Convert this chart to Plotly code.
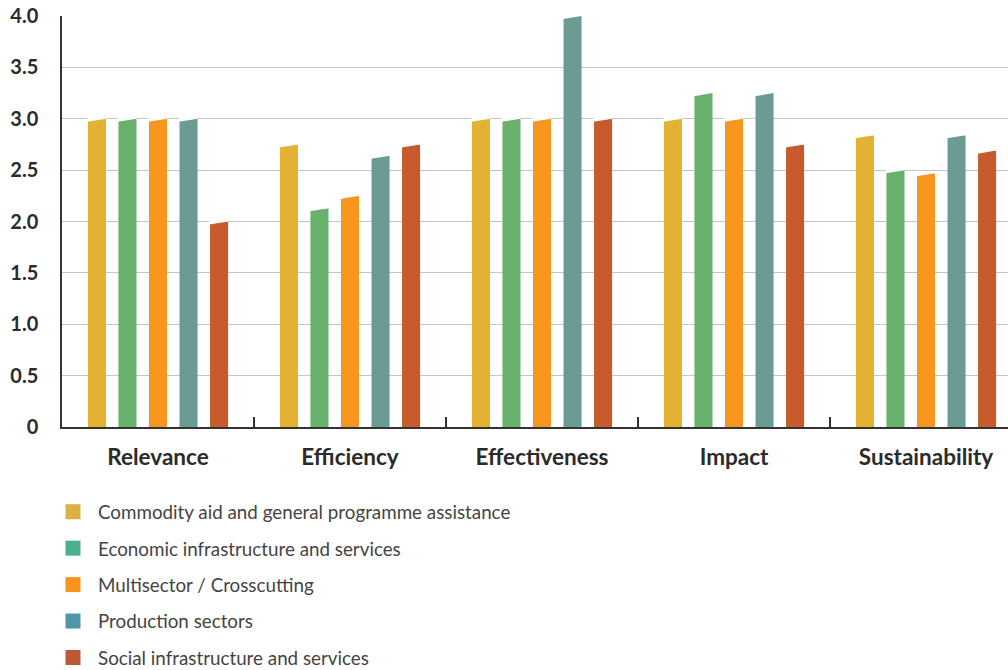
import plotly.graph_objects as go

# Evaluation criteria (x categories) and average scores per sector
criteria = ["Relevance", "Efficiency", "Effectiveness", "Impact", "Sustainability"]
sectors = [
    "Commodity aid and general programme assistance",
    "Economic infrastructure and services",
    "Multisector / Crosscutting",
    "Production sectors",
    "Social infrastructure and services",
]
commodity_aid = [3.0, 2.75, 3.0, 3.0, 2.84]
economic_infra = [3.0, 2.13, 3.0, 3.25, 2.5]
multisector = [3.0, 2.25, 3.0, 3.0, 2.47]
production = [3.0, 2.64, 4.0, 3.25, 2.84]
social_infra = [2.0, 2.75, 3.0, 2.75, 2.69]
series = [commodity_aid, economic_infra, multisector, production, social_infra]

y_tickvals = [0, 0.5, 1.0, 1.5, 2.0, 2.5, 3.0, 3.5, 4.0]
y_ticktext = ["0", "0.5", "1.0", "1.5", "2.0", "2.5", "3.0", "3.5", "4.0"]

bar_colors = ["#E3B232", "#68B16A", "#F7951F", "#6A9C94", "#C85B2E"]
legend_colors = ["#DDB044", "#4BAE8C", "#F7941E", "#5195A8", "#BD5836"]

FONT = "Lato"
TEXT = "#2b2b2b"

# bar geometry in category units
bar_w = 0.094
slot = 0.159
slant = 0.03  # drop of the left top corner, in value units

x_idx = list(range(len(criteria)))

fig = go.Figure()
shapes = []
for i, (name, vals) in enumerate(zip(sectors, series)):
    off = (i - 2) * slot - bar_w / 2
    fig.add_trace(go.Bar(
        x=x_idx, y=vals, name=name, width=bar_w, offset=off,
        marker=dict(color=bar_colors[i], line=dict(width=0)),
        showlegend=False,
    ))
    # slanted top: mask a small triangle at each bar's top-left corner
    for xc, v in zip(x_idx, vals):
        xl = xc + off
        xr = xl + bar_w
        shapes.append(dict(
            type="path", xref="x", yref="y", layer="above",
            path=f"M {xl - 0.003},{v + 0.01} L {xr},{v + 0.01} L {xr},{v} L {xl - 0.003},{v - slant} Z",
            fillcolor="white", line=dict(width=0),
        ))

# legend entries
for i, name in enumerate(sectors):
    fig.add_trace(go.Scatter(
        x=[None], y=[None], mode="markers", name=name,
        marker=dict(symbol="square", size=15, color=legend_colors[i]),
        legendgroup=f"g{i}",
    ))

fig.update_layout(
    width=1008, height=670,
    margin=dict(l=62, r=0, t=16, b=243, autoexpand=False),
    paper_bgcolor="white", plot_bgcolor="white",
    barmode="overlay",
    font=dict(family=FONT, color=TEXT),
    shapes=shapes,
    showlegend=True,
    legend=dict(
        xref="paper", yref="paper",
        x=(48 - 62) / 946, y=(427 - 493) / 411, xanchor="left", yanchor="top",
        orientation="v", tracegroupgap=9,
        font=dict(family=FONT, size=18.8, color="#444444"),
        itemsizing="trace", itemwidth=40,
    ),
    xaxis=dict(
        range=[-0.5, 4.427],
        tickvals=x_idx, ticktext=criteria, tickangle=0,
        tickfont=dict(family=FONT, size=22.5, color=TEXT, weight="bold"),
        ticks="", ticklabelstandoff=9,
        showgrid=False, zeroline=False,
        showline=True, linecolor="#333333", linewidth=1.5,
        minor=dict(tickvals=[0.5, 1.5, 2.5, 3.5], ticks="inside", ticklen=10,
                   tickcolor="#333333", tickwidth=1.5, showgrid=False),
        fixedrange=True,
    ),
    yaxis=dict(
        range=[0, 4.0],
        tickvals=y_tickvals, ticktext=y_ticktext,
        tickfont=dict(family=FONT, size=20, color=TEXT, weight="bold"),
        ticks="", ticklabelstandoff=18,
        showgrid=True, gridcolor="#C4C4C4", gridwidth=1,
        zeroline=False,
        showline=True, linecolor="#333333", linewidth=1.5,
        fixedrange=True,
    ),
)

fig.write_html("out.html")
